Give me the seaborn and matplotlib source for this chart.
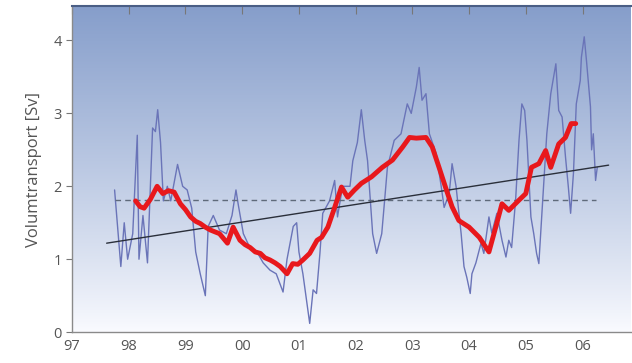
import matplotlib
matplotlib.use("Agg")
import matplotlib.pyplot as plt
import numpy as np
import pandas as pd
import seaborn as sns

# daily transport (thin blue); x in years since 1900
blue_x = [97.75, 97.86, 97.92, 97.98, 98.07, 98.12, 98.15, 98.18, 98.25, 98.33,
          98.42, 98.47, 98.51, 98.56, 98.61, 98.68, 98.74, 98.86, 98.95, 99.03,
          99.11, 99.18, 99.26, 99.32, 99.35, 99.4, 99.49, 99.6, 99.72, 99.82,
          99.89, 99.93, 100.02, 100.14, 100.26, 100.37, 100.49, 100.6, 100.72,
          100.79, 100.9, 100.96, 101.0, 101.07, 101.19, 101.25, 101.31, 101.37,
          101.42, 101.54, 101.63, 101.68, 101.77, 101.9, 101.95, 102.03, 102.1,
          102.16, 102.21, 102.3, 102.37, 102.46, 102.51, 102.56, 102.68, 102.8,
          102.91, 102.98, 103.07, 103.12, 103.17, 103.24, 103.3, 103.42, 103.51,
          103.56, 103.65, 103.7, 103.77, 103.86, 103.91, 103.96, 104.02, 104.05,
          104.12, 104.21, 104.26, 104.35, 104.4, 104.49, 104.58, 104.65, 104.7,
          104.75, 104.82, 104.88, 104.93, 104.98, 105.02, 105.09, 105.14, 105.19,
          105.23, 105.28, 105.37, 105.44, 105.53, 105.58, 105.64, 105.7, 105.75,
          105.79, 105.84, 105.89, 105.96, 105.98, 106.03, 106.07, 106.14, 106.16,
          106.19, 106.23, 106.26]
blue_y = [1.95, 0.9, 1.5, 1.0, 1.35, 2.2, 2.7, 1.0, 1.6, 0.95,
          2.8, 2.75, 3.05, 2.6, 1.8, 2.0, 1.8, 2.3, 2.0, 1.95,
          1.7, 1.1, 0.8, 0.6, 0.5, 1.45, 1.6, 1.4, 1.35, 1.6,
          1.95, 1.75, 1.35, 1.15, 1.1, 0.95, 0.85, 0.8, 0.55,
          1.0, 1.45, 1.5, 1.1, 0.8, 0.12, 0.58, 0.53, 1.08,
          1.63, 1.8, 2.08, 1.58, 2.0, 2.0, 2.35, 2.6, 3.05,
          2.63, 2.35, 1.35, 1.08, 1.35, 1.8, 2.26, 2.63, 2.72,
          3.13, 3.0, 3.36, 3.63, 3.18, 3.27, 2.72, 2.45, 1.99,
          1.71, 1.9, 2.31, 2.0, 1.35, 0.9, 0.75, 0.53, 0.8,
          0.95, 1.22, 1.08, 1.58, 1.36, 1.63, 1.26, 1.03, 1.26,
          1.16, 1.81, 2.63, 3.13, 3.04, 2.63, 1.58, 1.35, 1.08,
          0.94, 1.58, 2.72, 3.27, 3.68, 3.04, 2.95, 2.4, 1.99,
          1.63, 2.18, 3.13, 3.45, 3.77, 4.05, 3.72, 3.09, 2.5,
          2.72, 2.08, 2.26]

# smoothed transport (thick red)
red_x = [98.12, 98.2, 98.27, 98.38, 98.5, 98.6, 98.7, 98.8, 98.91, 99.0,
         99.09, 99.18, 99.26, 99.35, 99.44, 99.6, 99.74, 99.84, 99.96, 100.05,
         100.14, 100.23, 100.32, 100.4, 100.49, 100.58, 100.67, 100.79, 100.89,
         100.98, 101.07, 101.19, 101.32, 101.4, 101.51, 101.63, 101.75, 101.86,
         101.98, 102.1, 102.28, 102.47, 102.65, 102.83, 102.95, 103.07, 103.24,
         103.35, 103.47, 103.6, 103.7, 103.82, 104.0, 104.18, 104.35, 104.47,
         104.58, 104.7, 104.88, 105.0, 105.1, 105.23, 105.35, 105.44, 105.58,
         105.7, 105.8, 105.88]
red_y = [1.8, 1.72, 1.7, 1.82, 2.0, 1.9, 1.94, 1.92, 1.76, 1.68,
         1.58, 1.52, 1.49, 1.44, 1.4, 1.35, 1.22, 1.44, 1.26, 1.2,
         1.16, 1.1, 1.08, 1.02, 0.99, 0.95, 0.9, 0.8, 0.94,
         0.93, 0.99, 1.08, 1.26, 1.3, 1.44, 1.71, 1.99, 1.85,
         1.95, 2.04, 2.13, 2.26, 2.36, 2.54, 2.67, 2.66, 2.67,
         2.54, 2.26, 1.95, 1.72, 1.53, 1.44, 1.3, 1.1, 1.44,
         1.76, 1.67, 1.81, 1.9, 2.26, 2.31, 2.49, 2.26, 2.58,
         2.67, 2.86, 2.86]

# linear trend and long-term mean
trend_x = [97.61, 106.46]
trend_y = [1.22, 2.29]
mean_x = [97.75, 106.23]
mean_y = [1.81, 1.81]

year_ticks = [97, 98, 99, 100, 101, 102, 103, 104, 105, 106]
year_labels = ["97", "98", "99", "00", "01", "02", "03", "04", "05", "06"]

sns.set_style("white")
plt.rcParams["font.family"] = ["Open Sans", "DejaVu Sans"]

fig = plt.figure(figsize=(6.32, 3.63), dpi=100)
ax = fig.add_axes([0.114, 0.085, 0.884, 0.898])

# background gradient: blue at top fading to white
grad = np.linspace(0, 1, 256).reshape(-1, 1)
top = np.array([134, 158, 203]) / 255
bottom = np.array([250, 251, 255]) / 255
img = bottom + (top - bottom) * grad[:, :, None] ** 0.9
ax.imshow(img, extent=[97, 106.85, 0, 4.47], origin="lower",
          aspect="auto", zorder=0)

df_blue = pd.DataFrame({"x": blue_x, "y": blue_y})
df_red = pd.DataFrame({"x": red_x, "y": red_y})
sns.lineplot(data=df_blue, x="x", y="y", ax=ax, color="#6a74b8",
             linewidth=1.0, sort=False, zorder=2)
sns.lineplot(x=mean_x, y=mean_y, ax=ax, color="#5f6a7a", linewidth=1.0,
             linestyle=(0, (4, 3)), zorder=3)
sns.lineplot(x=trend_x, y=trend_y, ax=ax, color="#2a2f3a", linewidth=1.0,
             zorder=3)
sns.lineplot(data=df_red, x="x", y="y", ax=ax, color="#e8181c",
             linewidth=3.5, sort=False, zorder=4)

ax.set_xlim(97, 106.85)
ax.set_ylim(0, 4.47)
ax.set_xticks(year_ticks)
ax.set_xticklabels(year_labels)
ax.set_yticks([0, 1, 2, 3, 4])
ax.set_xlabel("")
ax.set_ylabel("Volumtransport [Sv]", fontsize=12, color="#555555", labelpad=8)

ax.tick_params(axis="x", direction="in", length=6, color="#777777",
               labelcolor="#555555", labelsize=10.5, pad=5, top=True)
ax.tick_params(axis="y", direction="out", length=4, color="#777777",
               labelcolor="#555555", labelsize=10.5, left=True)

for s in ["left", "bottom"]:
    ax.spines[s].set_color("#8a8a8a")
    ax.spines[s].set_linewidth(1.0)
ax.spines["top"].set_color("#4a5e85")
ax.spines["top"].set_linewidth(1.5)
ax.spines["right"].set_visible(False)

fig.savefig("out.png", dpi=100)
